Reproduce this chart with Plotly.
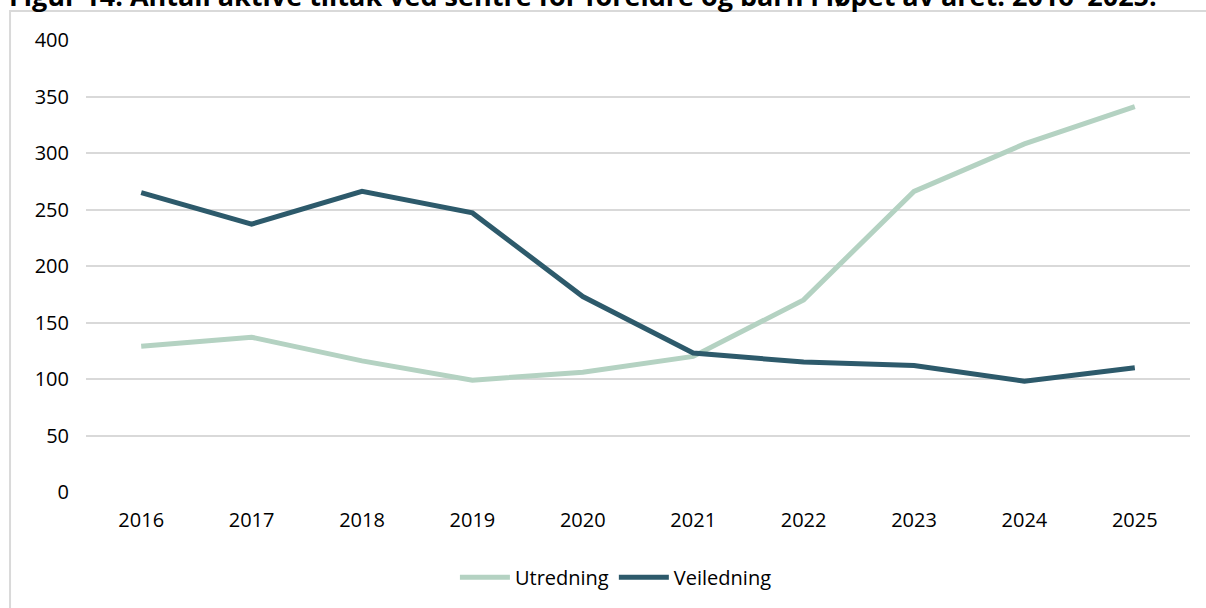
import plotly.graph_objects as go

# ── Data ─────────────────────────────────────────────────────────────────────
YEARS = ["2016", "2017", "2018", "2019", "2020", "2021", "2022", "2023", "2024", "2025"]
UTREDNING = [129, 137, 116, 99, 106, 120, 170, 266, 308, 341]
VEILEDNING = [265, 237, 266, 247, 173, 123, 115, 112, 98, 110]
Y_TICKS = [0, 50, 100, 150, 200, 250, 300, 350, 400]

TITLE = "Figur 14. Antall aktive tiltak ved sentre for foreldre og barn i løpet av året. 2016–2025."

# ── Design tokens ────────────────────────────────────────────────────────────
C_UTR = "#b4d2c2"
C_VEI = "#2d5a6b"
GRID = "#d9d9d9"
TEXT = "#000000"
FONT = "Open Sans, Arial, sans-serif"
W, H = 1206, 608

fig = go.Figure()

fig.add_trace(go.Scatter(
    x=YEARS, y=UTREDNING, name="Utredning", mode="lines",
    line=dict(color=C_UTR, width=5),
))
fig.add_trace(go.Scatter(
    x=YEARS, y=VEILEDNING, name="Veiledning", mode="lines",
    line=dict(color=C_VEI, width=5),
))

# outer chart border (Excel-style frame), runs off the right/bottom edge
fig.add_shape(
    type="rect", xref="paper", yref="paper",
    x0=-0.0688, x1=1.2, y0=-0.5, y1=1.064,
    line=dict(color=GRID, width=2), fillcolor="rgba(0,0,0,0)", layer="below",
)

# figure caption, mostly cut off by the top of the page
fig.add_annotation(
    text=f"<b>{TITLE}</b>", xref="paper", yref="paper",
    x=-0.072, y=1.099, xanchor="left", yanchor="middle",
    showarrow=False, font=dict(size=27, color=TEXT, family=FONT),
)

fig.update_layout(
    width=W, height=H,
    paper_bgcolor="#ffffff", plot_bgcolor="#ffffff",
    font=dict(family=FONT, size=20, color=TEXT),
    margin=dict(l=86, r=16, t=40, b=115),
    showlegend=True,
    legend=dict(
        orientation="h", x=0.48, xanchor="center", y=-0.186, yanchor="middle",
        font=dict(size=20, color=TEXT), itemwidth=50,
        bgcolor="rgba(0,0,0,0)",
    ),
    xaxis=dict(
        type="category", range=[-0.5, 9.5],
        showgrid=False, showline=False, zeroline=False,
        ticks="", ticklabelstandoff=14,
        tickfont=dict(size=20, color=TEXT),
    ),
    yaxis=dict(
        range=[0, 400], tickvals=Y_TICKS,
        showgrid=True, gridcolor=GRID, gridwidth=1.5,
        showline=False, zeroline=False,
        ticks="", ticklabelstandoff=16,
        tickfont=dict(size=20, color=TEXT),
    ),
)

# drop the default page margin so the figure sits at the window's corner
fig.write_html(
    "out.html",
    config={"displayModeBar": False},
    post_script="document.body.style.margin='0';",
)
